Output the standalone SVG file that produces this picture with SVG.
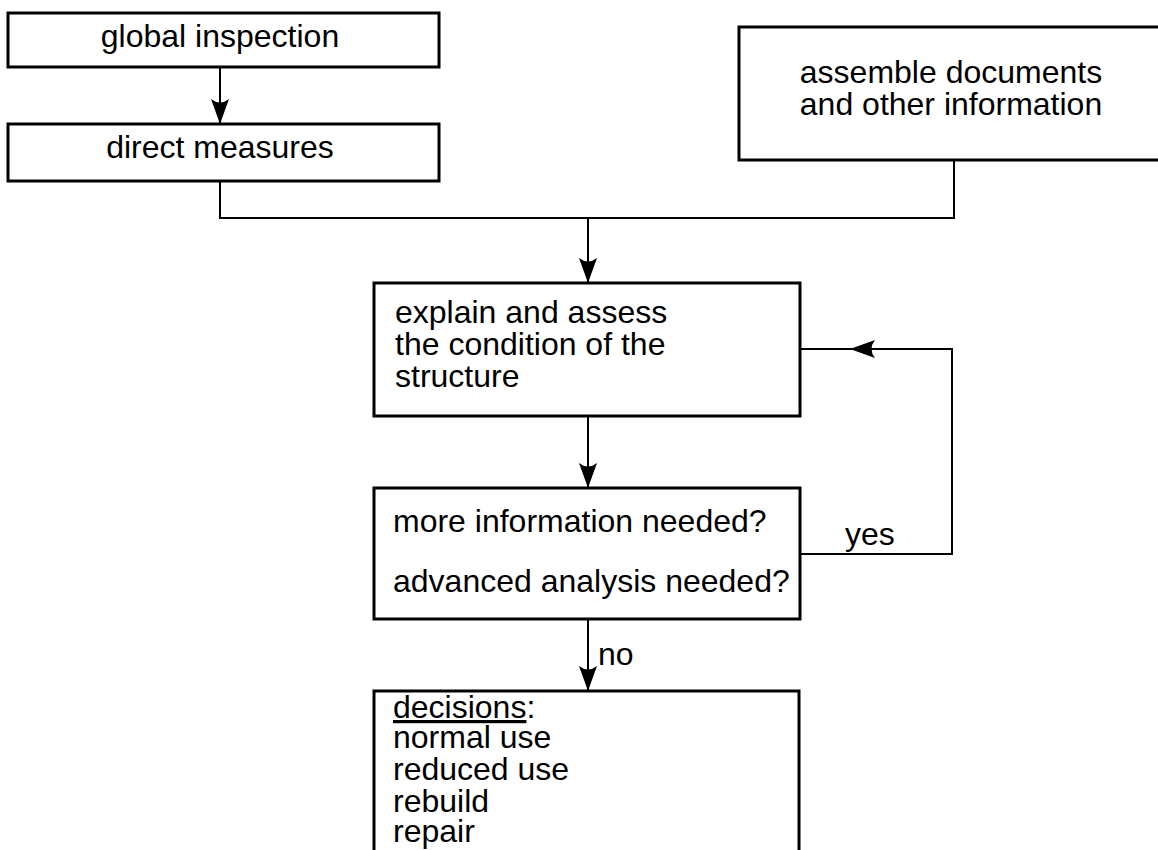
<svg xmlns="http://www.w3.org/2000/svg" width="1158" height="850" viewBox="0 0 1158 850">
<style>
  .box { fill: #fff; stroke: #000; stroke-width: 3; }
  .lbl { font-family: "Liberation Sans", Arial, Helvetica, sans-serif; font-size: 32px; fill: #000; }
  .mid { text-anchor: middle; }
  .conn { fill: none; stroke: #000; stroke-width: 2; }
</style>
<defs>
  <marker id="arr" markerUnits="userSpaceOnUse" markerWidth="26" markerHeight="20" refX="25" refY="10" orient="auto" overflow="visible">
    <path d="M0,1 L25,10 L0,19 Q7,10 0,1 Z" fill="#000"/>
  </marker>
</defs>
<rect width="1158" height="850" fill="#fff"/>
<g id="connectors">
  <path class="conn" d="M220,67 V124" marker-end="url(#arr)"/>
  <path class="conn" d="M220,181 V218 H954 V160"/>
  <path class="conn" d="M588,218 V283" marker-end="url(#arr)"/>
  <path class="conn" d="M588,416 V488" marker-end="url(#arr)"/>
  <path class="conn" d="M800,554 H952 V349 H850" marker-end="url(#arr)"/>
  <path class="conn" d="M850,349 H800"/>
  <path class="conn" d="M588,619 V691" marker-end="url(#arr)"/>
  <text class="lbl" x="845" y="545">yes</text>
  <text class="lbl" x="598" y="665">no</text>
</g>
<g id="global-inspection">
  <rect class="box" x="8" y="13" width="431" height="54"/>
  <text class="lbl mid" x="220" y="47">global inspection</text>
</g>
<g id="direct-measures">
  <rect class="box" x="8" y="124" width="431" height="57"/>
  <text class="lbl mid" x="220" y="158">direct measures</text>
</g>
<g id="assemble-documents">
  <rect class="box" x="739" y="27" width="440" height="133"/>
  <text class="lbl mid" x="951" y="83">assemble documents</text>
  <text class="lbl mid" x="951" y="115">and other information</text>
</g>
<g id="explain-assess">
  <rect class="box" x="374" y="283" width="426" height="133"/>
  <text class="lbl" x="395" y="323">explain and assess</text>
  <text class="lbl" x="395" y="355">the condition of the</text>
  <text class="lbl" x="395" y="387">structure</text>
</g>
<g id="decision-question">
  <rect class="box" x="374" y="488" width="426" height="131"/>
  <text class="lbl" x="393" y="532">more information needed?</text>
  <text class="lbl" x="393" y="592">advanced analysis needed?</text>
</g>
<g id="decisions">
  <rect class="box" x="374" y="691" width="425" height="180"/>
  <text class="lbl" x="393" y="718"><tspan text-decoration="underline">decisions</tspan>:</text>
  <text class="lbl" x="393" y="748">normal use</text>
  <text class="lbl" x="393" y="780">reduced use</text>
  <text class="lbl" x="393" y="812">rebuild</text>
  <text class="lbl" x="393" y="842">repair</text>
</g>
</svg>
